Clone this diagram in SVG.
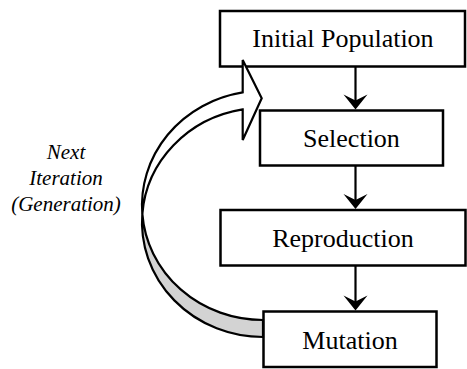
<svg xmlns="http://www.w3.org/2000/svg" width="467" height="369" viewBox="0 0 467 369">
<style>
.box{fill:#fff;stroke:#000;stroke-width:2.5}
.lbl{font-size:26px;fill:#000;text-anchor:middle}
.note{font-size:21px;font-style:italic;fill:#000;text-anchor:middle}
.conn{stroke:#000;stroke-width:2.2;fill:none}
.ah{fill:#000;stroke:none}
.band{stroke:#000;stroke-width:2.2;stroke-linejoin:miter}
</style>
<defs>
<path id="head" d="M-12,-15 L0,0 L12,-15 L0,-9 Z"/>
</defs>
<g id="node-initial">
<rect class="box" x="220" y="11" width="245" height="55.5"/>
<text class="lbl" font-family="Liberation Serif, serif" x="343" y="47">Initial Population</text>
</g>
<g id="node-selection">
<rect class="box" x="260" y="110.5" width="183" height="55"/>
<text class="lbl" font-family="Liberation Serif, serif" x="351.5" y="147">Selection</text>
</g>
<g id="node-reproduction">
<rect class="box" x="220.5" y="210" width="245" height="55.5"/>
<text class="lbl" font-family="Liberation Serif, serif" x="343" y="247">Reproduction</text>
</g>
<g id="node-mutation">
<rect class="box" x="263.5" y="311.5" width="173" height="55.5"/>
<text class="lbl" font-family="Liberation Serif, serif" x="350" y="348.5">Mutation</text>
</g>
<g id="connectors">
<line class="conn" x1="355.5" y1="67" x2="355.5" y2="102"/>
<use href="#head" class="ah" transform="translate(355.5,109.5)"/>
<line class="conn" x1="355.5" y1="166" x2="355.5" y2="202"/>
<use href="#head" class="ah" transform="translate(355.5,209)"/>
<line class="conn" x1="355.5" y1="266" x2="355.5" y2="303"/>
<use href="#head" class="ah" transform="translate(355.5,310.5)"/>
<path id="loop-back" class="band" fill="#d3d3d3" d="M142.33,213.9 A121,114.6 0 0 0 263,337 L263,320 A121,114.6 0 0 1 142.33,213.9 Z"/>
<path id="loop-front" class="band" fill="#fff" d="M242.7,92.43 A121,114.6 0 0 0 142.33,213.9 A121,114.6 0 0 1 242.7,109.43 L242.7,140 L261.7,98.3 L242.7,60 Z"/>
</g>
<g id="note">
<text class="note" font-family="Liberation Serif, serif" x="66" y="159">Next</text>
<text class="note" font-family="Liberation Serif, serif" x="66" y="185">Iteration</text>
<text class="note" font-family="Liberation Serif, serif" x="66" y="211">(Generation)</text>
</g>
</svg>
